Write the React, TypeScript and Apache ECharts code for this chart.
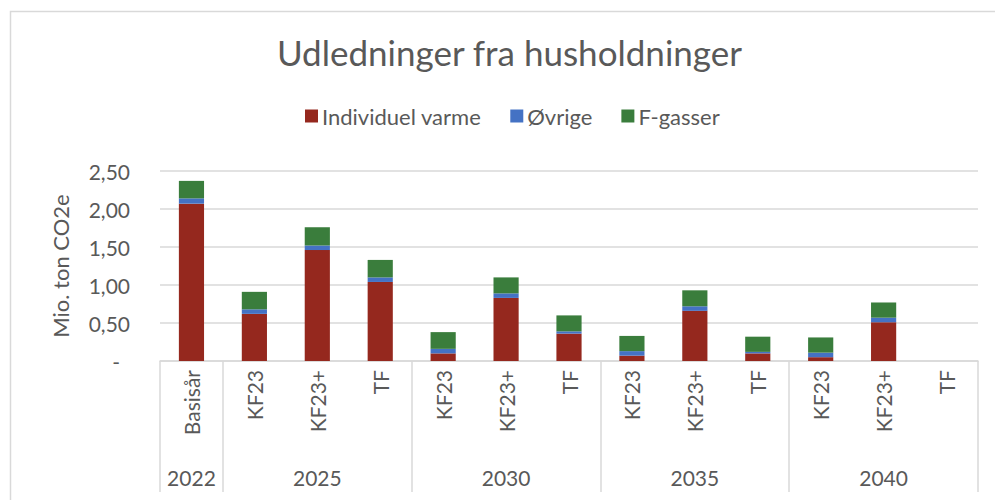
import React, { useEffect, useRef } from 'react';
import * as echarts from 'echarts';

const years = ['2022', '2025', '2030', '2035', '2040'];
const scenarios = [['Basisår'], ['KF23', 'KF23+', 'TF'], ['KF23', 'KF23+', 'TF'], ['KF23', 'KF23+', 'TF'], ['KF23', 'KF23+', 'TF']];
const individuelVarme = [2.07, 0.62, 1.46, 1.04, 0.10, 0.83, 0.36, 0.07, 0.66, 0.10, 0.05, 0.51, null];
const oevrige = [0.07, 0.06, 0.06, 0.06, 0.06, 0.06, 0.03, 0.06, 0.06, 0.02, 0.06, 0.06, null];
const fGasser = [0.23, 0.23, 0.24, 0.23, 0.22, 0.21, 0.21, 0.20, 0.21, 0.20, 0.20, 0.20, null];
const yTicks = [0, 0.5, 1, 1.5, 2, 2.5];

const FONT = 'Lato, "Open Sans", sans-serif';
const TXT = '#595959';
const GRID = '#d9d9d9';

export default function App() {
  const ref = useRef<HTMLDivElement>(null);
  useEffect(() => {
    if (!ref.current) return;
    const chart = echarts.init(ref.current, undefined, { renderer: 'svg' });
    const categories: string[] = [];
    const outer: string[] = [];
    const groupStarts: number[] = [];
    scenarios.forEach((g, gi) => {
      groupStarts.push(categories.length);
      const mid = Math.floor((g.length - 1) / 2);
      g.forEach((s, si) => {
        categories.push(s);
        outer.push(si === mid ? years[gi] : '');
      });
    });
    const mk = (name: string, data: (number | null)[], color: string) => ({
      name,
      type: 'bar',
      stack: 'total',
      data,
      barWidth: '40%',
      itemStyle: { color },
      xAxisIndex: 0,
    });
    chart.setOption({
      animation: false,
      textStyle: { fontFamily: FONT },
      title: {
        text: 'Udledninger fra husholdninger',
        left: 272,
        top: 29,
        textStyle: { fontFamily: FONT, fontSize: 35, fontWeight: 'normal', color: TXT },
      },
      legend: {
        left: 300,
        top: 100,
        itemWidth: 13,
        itemHeight: 13,
        itemGap: 29,
        icon: 'rect',
        textStyle: { fontFamily: FONT, fontSize: 22, color: TXT, padding: [0, 0, 0, -1] },
        data: ['Individuel varme', 'Øvrige', 'F-gasser'],
      },
      grid: { left: 160, right: 17, top: 171, bottom: 139, containLabel: false },
      xAxis: [
        {
          type: 'category',
          data: categories,
          position: 'bottom',
          axisLine: { show: true, lineStyle: { color: GRID, width: 1.5 } },
          axisTick: { show: false },
          axisLabel: { rotate: 90, margin: 9, fontSize: 21, color: TXT, fontFamily: FONT, interval: 0 },
        },
        {
          type: 'category',
          data: outer,
          position: 'bottom',
          axisLine: { show: false },
          axisTick: {
            show: true,
            length: 131,
            interval: (i: number) => groupStarts.includes(i),
            lineStyle: { color: GRID, width: 1.5 },
          },
          axisLabel: { interval: 0, margin: 106, fontSize: 21, color: TXT, fontFamily: FONT },
        },
      ],
      yAxis: {
        type: 'value',
        min: yTicks[0],
        max: yTicks[yTicks.length - 1],
        interval: 0.5,
        name: 'Mio. ton CO2e',
        nameLocation: 'middle',
        nameGap: 89,
        nameTextStyle: { fontSize: 22, color: TXT, fontFamily: FONT },
        axisLine: { show: false },
        axisTick: { show: false },
        splitLine: { lineStyle: { color: GRID, width: 1.5 } },
        axisLabel: {
          margin: 30,
          fontSize: 21,
          color: TXT,
          fontFamily: FONT,
          formatter: (v: number) => (v === 0 ? '{d|-}' : v.toFixed(2).replace('.', ',')),
          rich: { d: { fontSize: 21, color: TXT, fontFamily: FONT, padding: [0, 10, 0, 0] } },
        },
      },
      graphic: [
        {
          type: 'rect',
          shape: { x: 10.5, y: 11.5, width: 1000, height: 600 },
          style: { fill: 'none', stroke: GRID, lineWidth: 1.5 },
          silent: true,
        },
      ],
      series: [
        mk('Individuel varme', individuelVarme, '#95281E'),
        mk('Øvrige', oevrige, '#4472C4'),
        mk('F-gasser', fGasser, '#3A7D3C'),
      ],
    });
    return () => chart.dispose();
  }, []);
  return <div ref={ref} style={{ position: 'fixed', left: 0, top: 0, width: 995, height: 500, background: '#fff' }} />;
}
